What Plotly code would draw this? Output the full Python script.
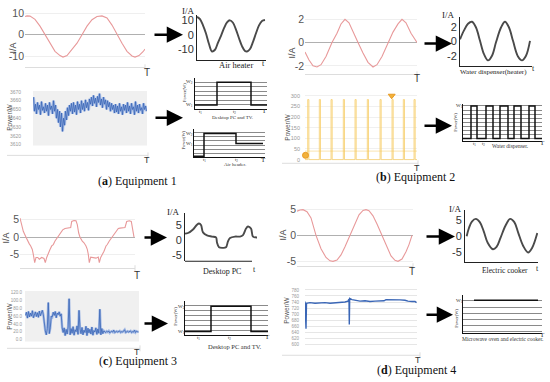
import plotly.graph_objects as go

W, H = 550, 382

# ================= DATA =================
# (a) Equipment 1
a_cur_t = [0, 2, 5, 10, 15, 20, 25, 30, 35, 38, 42, 47, 52, 57, 62, 67, 72, 77, 82, 87, 92, 97, 102, 107, 110, 114, 118, 120]
a_cur_i = [8.5, 8.8, 8.7, 7.2, 4, 0, -4, -7.8, -9.8, -10.5, -9.8, -7, -4, 0, 4, 7, 8.5, 8.8, 7.8, 4.5, 0, -4, -7.8, -10, -10.5, -9.8, -8, -6.8]
a_heat_t = [0, 3, 6, 9, 12, 15, 18, 21, 24, 27, 30, 33, 36, 39, 42, 45, 48, 50, 53, 56, 59, 62, 65, 68]
a_heat_i = [12.4, 10.8, 6.5, 0.8, -6.5, -11.7, -10.5, -5.5, -0.8, 4.5, 8.6, 10, 8.3, 3.5, -2.5, -8, -11.3, -11.7, -10, -5, 1, 6.5, 9.5, 10.2]
a_pow = [3664, 3648, 3656, 3645, 3658, 3650, 3655, 3644, 3659, 3649, 3653, 3646, 3657, 3648, 3655, 3643, 3658, 3650, 3654, 3645, 3660, 3648,
         3655, 3640, 3650, 3635, 3648, 3630, 3646, 3625, 3640, 3632, 3648, 3638, 3652, 3643, 3655,
         3648, 3657, 3645, 3658, 3647, 3655, 3644, 3659, 3650, 3656, 3646, 3660, 3650, 3657, 3648, 3661, 3652, 3658, 3649, 3662,
         3656, 3664, 3654, 3666, 3657, 3663, 3653, 3665, 3658, 3668, 3655, 3662, 3652, 3664, 3656, 3661, 3650, 3660, 3653, 3658, 3648, 3657, 3650, 3655, 3646,
         3656, 3647, 3654, 3645, 3657, 3648, 3653, 3644, 3656, 3649, 3655, 3646, 3658, 3648, 3654, 3645, 3657, 3650, 3653, 3644, 3659, 3648, 3655, 3646, 3656, 3649, 3652, 3645, 3657, 3650, 3654, 3648]
a_tv_t = [0, 22, 22, 56, 56, 72]
a_tv_p = [0.9, 0.9, 6.1, 6.1, 0.9, 0.9]
a_ah_t = [0, 10, 10, 42, 42, 69]
a_ah_p = [0.25, 0.25, 5.8, 5.8, 3.4, 3.4]

# (b) Equipment 2
b_cur_t = [0, 4, 8, 12, 16, 21, 27, 32, 36, 40, 44, 48, 53, 58, 63, 68, 72, 77, 83, 88, 93, 97, 101, 106, 112]
b_cur_i = [-0.8, -1.5, -2.0, -2.1, -1.9, -1.2, 0, 0.8, 1.6, 2.0, 1.7, 1.0, 0, -0.9, -1.7, -2.1, -1.9, -1.2, 0, 0.9, 1.6, 2.0, 1.7, 0.8, 0]
b_wd_t = [0, 4, 8, 12, 16, 20, 24, 28, 32, 36, 41, 45, 49, 53, 58, 62, 66, 70]
b_wd_i = [0.3, 1.5, 2.4, 2.67, 1.9, 0.1, -1.7, -2.53, -1.9, -0.1, 1.9, 2.67, 1.9, 0.1, -2.0, -2.53, -1.9, 0.1]
b_pulse_start = [2.7, 14.3, 26, 38.3, 50, 62.3, 75, 87, 98.3, 109]
b_pulse_width = 1.2
b_pulse_height = 282
b_mean = 40
b_mark_t = [0.5, 86.7]
b_mark_p = [20, 300]
b_sq_rise = [8, 23, 37, 51, 66]
b_sq_fall = [14, 30, 45, 58, 72]
b_sq_high = 8

# (c) Equipment 3
c_cur_t = [0, 1.7, 3.3, 6, 7.7, 9.3, 10.7, 12.3, 13.3, 14.7, 16, 17.7, 19.3, 21.7, 24, 25.3, 26.7, 28.3, 30, 31.7,
           33.3, 35, 37.3, 39.3, 41, 42.7, 45, 46.7, 48.3, 50.7, 51.7, 54, 56, 57.3, 58.7, 60, 62.3, 64, 66, 67.3,
           68.3, 69.3, 70.7, 73.3, 76, 78.3, 79.3, 80.7, 82.7, 84, 86, 87.3, 89.3, 91.7, 94, 96, 98.3, 100, 102.7, 105,
           106.7, 109.3, 111.3, 112.7, 114]
c_cur_i = [5.5, 3.6, 1.7, 0, -1.1, -1.9, -2.5, -3.5, -4.9, -7.3, -5.8, -5.8, -6.3, -5.8, -6.1, -7.3, -5.8, -4.9, -3.5, -2.5,
           -2.1, -1.1, -0.2, 0.8, 1.4, 2.1, 2.5, 2.6, 2.8, 2.8, 4.5, 4.8, 4.7, 3.6, 1.2, 0, -1.1, -1.6, -2.5, -3.5,
           -4.9, -7.3, -5.7, -5.8, -6.0, -5.7, -7.3, -5.8, -4.9, -4.0, -2.5, -2.1, -1.1, -0.2, 0.9, 1.7, 2.5, 2.6, 2.8, 2.8,
           4.5, 4.7, 4.5, 2.2, 0]
c_pc_t = [0, 3, 8, 12, 14, 16, 18, 22, 27, 31, 32, 34, 38, 41, 43, 45, 50, 55, 58, 61, 63, 66, 68, 72]
c_pc_i = [2.3, 2.5, 3.7, 5.3, 5.7, 5.2, 2.7, 1.7, 1.3, 1.0, -0.7, -2.3, -2.5, -2.3, -0.3, 0.8, 1.3, 1.3, 1.8, 4.0, 4.7, 4.0, 1.3, 1.0]
c_pow = [62, 70, 55, 72, 58, 68, 60, 74, 56, 66, 71, 59, 69, 57, 73, 61, 67, 75, 64,
         40, 22,
         12, 28, 95, 15, 30, 60,
         58, 70, 62, 72, 56, 68, 64, 71, 60, 66,
         30,
         18, 30, 10, 26, 14, 32, 105, 12, 28, 16, 33, 11, 25, 20, 35, 13, 75, 27, 15, 31,
         12, 24, 18, 34, 10, 29, 17, 26, 14, 32, 11, 23, 19, 30, 13, 27, 16, 78, 12, 28, 15, 22,
         20, 18, 21, 19, 22, 17, 20, 21, 19, 24, 18, 20, 21, 19, 20, 22, 18, 20, 19, 21, 25, 18, 20, 21, 19, 20, 22, 18, 20, 19, 24, 18, 21, 20, 19]
c_tv_t = [0, 26, 26, 66, 66, 83]
c_tv_p = [0.8, 0.8, 5.9, 5.9, 0.8, 0.8]

# (d) Equipment 4
d_cur_t = [0, 3, 6, 10, 14, 19, 24, 29, 33, 36, 40, 44, 48, 53, 58, 62, 66, 69, 72, 76, 80, 85, 90, 94, 98, 101, 105, 109, 112, 115]
d_cur_i = [4.7, 4.95, 5.0, 4.6, 3.4, 0, -2.6, -4.3, -4.95, -5.05, -4.8, -3.8, -2.2, 0, 2.3, 4.0, 4.85, 5.0, 4.8, 3.8, 2.2, 0, -2.3, -4.0, -4.85, -5.05, -4.6, -3.2, -1.8, 0]
d_ck_t = [1.7, 4, 7, 11, 15, 19, 23, 28.3, 32, 36, 41, 45.7, 50, 54, 59, 64, 68, 73.3]
d_ck_i = [0, 2.5, 4.5, 5.3, 4.3, 1.5, -2.0, -4.0, -3.3, -0.5, 3.2, 5.3, 4.3, 1.0, -3.0, -5.0, -3.6, 1.0]
d_pow_t = [0, 1, 1.5, 5, 10, 15, 20, 25, 30, 35, 40, 43, 44, 44.3, 44.7, 47, 51, 55, 60, 65, 70, 75, 79, 81, 85, 90, 95, 100, 103, 107, 110, 111.5]
d_pow_p = [742, 652, 736, 738, 736, 737, 738, 736, 737, 737, 740, 743, 750, 666, 752, 748, 745, 743, 744, 742, 743, 744, 744, 748, 747, 746, 747, 746, 743, 742, 742, 738]
d_mw_t = [11, 75]
d_mw_p = [5.1, 5.1]

# tick values
cur10_ticks = [10, 0, -10]
cur2_ticks = [2, 0, -2]
cur5_ticks = [5, 0, -5]
a_pow_ticks = [3610, 3620, 3630, 3640, 3650, 3660, 3670]
b_pow_ticks = [0, 50, 100, 150, 200, 250, 300]
c_pow_ticks = [0, 20, 40, 60, 80, 100, 120]
d_pow_ticks = [600, 620, 640, 660, 680, 700, 720, 740, 760, 780]

# ================= FIGURE =================
SANS = "Liberation Sans"
SERIF = "Liberation Serif"
fig = go.Figure()
layout = {}
shapes = []
anns = []
cnt = [0]


def axes(box, xr, yr, xkw=None, ykw=None):
    cnt[0] += 1
    k = cnt[0]
    s = '' if k == 1 else str(k)
    x0, y0, x1, y1 = box
    xa = dict(domain=[x0 / W, x1 / W], range=xr, anchor='y' + s, showgrid=False, zeroline=False,
              showticklabels=False, ticks='', showline=False, fixedrange=True)
    ya = dict(domain=[1 - y1 / H, 1 - y0 / H], range=yr, anchor='x' + s, showgrid=False, zeroline=False,
              showticklabels=False, ticks='', showline=False, fixedrange=True)
    if xkw:
        xa.update(xkw)
    if ykw:
        ya.update(ykw)
    layout['xaxis' + s] = xa
    layout['yaxis' + s] = ya
    return 'x' + s, 'y' + s


def line(ax, x, y, color, width, shape='linear', **kw):
    fig.add_trace(go.Scatter(x=x, y=y, xaxis=ax[0], yaxis=ax[1], mode='lines',
                             line=dict(color=color, width=width, shape=shape),
                             showlegend=False, hoverinfo='skip', **kw))


def pline(x0, y0, x1, y1, color='#000', width=1):
    shapes.append(dict(type='line', xref='paper', yref='paper', x0=x0 / W, x1=x1 / W,
                       y0=1 - y0 / H, y1=1 - y1 / H, line=dict(color=color, width=width)))


def prect(x0, y0, x1, y1, fill):
    shapes.append(dict(type='rect', xref='paper', yref='paper', x0=x0 / W, x1=x1 / W,
                       y0=1 - y1 / H, y1=1 - y0 / H, line=dict(width=0), fillcolor=fill, layer='below'))


def txt(x, y, t, size, color='#222', family=SANS, angle=0, xanchor='center'):
    anns.append(dict(x=x / W, y=1 - y / H, xref='paper', yref='paper', text=t, showarrow=False,
                     font=dict(size=size, color=color, family=family), textangle=angle,
                     xanchor=xanchor, yanchor='middle'))


def arrow(x0, x1, y):
    anns.append(dict(x=x1 / W, y=1 - y / H, xref='paper', yref='paper', ax=-(x1 - x0), ay=0,
                     text='', showarrow=True, arrowhead=2, arrowsize=1.3, arrowwidth=2.5, arrowcolor='#000',
                     font=dict(size=1)))


def cur_left(box, xr, yr, ticks, t, i, ylab_pos, T_pos):
    ax = axes(box, xr, yr,
              xkw=dict(showline=True, linecolor='#dddddd', linewidth=1),
              ykw=dict(showticklabels=True, tickvals=ticks, ticktext=[str(v) for v in ticks],
                       tickfont=dict(size=10.5, color='#555', family=SANS),
                       showgrid=True, gridcolor='#efefef', zeroline=True, zerolinecolor='#b0b0b0',
                       zerolinewidth=1))
    line(ax, t, i, '#e8999a', 1.1)
    txt(ylab_pos[0], ylab_pos[1], 'I/A', 9, '#444', SANS, -90)
    txt(T_pos[0], T_pos[1], 'T', 10, '#333', SANS)
    x1, y1 = box[2], box[3]
    pline(x1, y1 - 3, x1, y1 + 3, '#dddddd', 1)
    return ax


def cur_right(box, xr, yr, ticks, t, i, ia_pos, label, lab_pos, lab_size, t_pos, xline=True):
    ax = axes(box, xr, yr,
              xkw=dict(showline=xline, linecolor='#222', linewidth=1),
              ykw=dict(showline=True, linecolor='#222', linewidth=1, showticklabels=True, tickvals=ticks,
                       ticktext=[str(v) for v in ticks], tickfont=dict(size=11, color='#333', family=SANS)))
    line(ax, t, i, '#4a4a4a', 1.9, 'spline')
    txt(ia_pos[0], ia_pos[1], 'I/A', 9, '#222', SERIF)
    txt(lab_pos[0], lab_pos[1], label, lab_size, '#222', SERIF)
    txt(t_pos[0], t_pos[1], 't', 8, '#222', SERIF)
    return ax


def step_box(box, xr, yr, t, p, wlabels, plab, label, lab_pos, lab_size, T_pos, tlabels):
    ax = axes(box, xr, yr,
              xkw=dict(showline=True, linecolor='#111', linewidth=1),
              ykw=dict(showline=True, linecolor='#111', linewidth=1, showgrid=True, dtick=1, tick0=0,
                       gridcolor='#8a8a8a', gridwidth=0.7))
    line(ax, t, p, '#111', 1.5)
    for (wx, wy, wt) in wlabels:
        txt(wx, wy, wt, 5, '#333', SERIF)
    txt(plab[0], plab[1], 'Power(W)', 4.5, '#333', SERIF, -90)
    txt(lab_pos[0], lab_pos[1], label, lab_size, '#333', SERIF)
    txt(T_pos[0], T_pos[1], 'T', 7, '#333', SERIF)
    for (tx, ty, tt) in tlabels:
        txt(tx, ty, tt, 4.5, '#333', SERIF)
    return ax


def pow_frame(bottom_y, x0, x1, plab, T_pos):
    pline(x0, bottom_y, x1, bottom_y, '#dddddd', 1)
    pline(x1, bottom_y - 3, x1, bottom_y + 3, '#dddddd', 1)
    txt(plab[0], plab[1], 'Power/W', 6.5, '#555', SANS, -90)
    txt(T_pos[0], T_pos[1], 'T', 9, '#333', SANS)


# ---------- (a) ----------
cur_left((25, 5, 145, 66), [0, 120], [-15.3, 13], cur10_ticks, a_cur_t, a_cur_i, (13, 47), (147, 71))
cur_right((197, 13, 266, 59), [0, 69], [-17.9, 13.8], cur10_ticks, a_heat_t, a_heat_i, (188, 9),
          'Air heater', (236, 64), 8.5, (263, 62))
prect(33, 90, 147, 145, '#f0f0f0')
ax = axes((33, 90, 147, 145), [-0.5, 113.5], [3608.9, 3671],
          ykw=dict(showticklabels=True, tickvals=a_pow_ticks, ticktext=[str(v) for v in a_pow_ticks],
                   tickfont=dict(size=5, color='#999', family=SANS), ticklabelstandoff=11))
line(ax, list(range(len(a_pow))), a_pow, 'rgba(140,170,225,0.75)', 3)
line(ax, list(range(len(a_pow))), a_pow, '#3a66b6', 0.8)
pow_frame(155, 7, 148, (10, 117), (147, 160))
step_box((195, 77, 267, 108), [0, 72], [0, 7], a_tv_t, a_tv_p,
         [(189, 81, 'W<sub>2</sub>'), (189, 104, 'W<sub>1</sub>')], (184, 92),
         'Desktop PC and TV.', (232, 117), 5, (264, 110),
         [(200, 111, 't<sub>1</sub>'), (234, 111, 't<sub>2</sub>')])
step_box((194, 128, 265, 157), [0, 71], [0, 7], a_ah_t, a_ah_p,
         [(189, 133, 'W<sub>2</sub>'), (189, 143, 'W<sub>1</sub>')], (184, 140),
         'Air header.', (235, 164), 5, (263, 160),
         [(204, 160, 't<sub>1</sub>'), (236, 160, 't<sub>2</sub>')])
arrow(153, 183, 33)
arrow(154, 183, 117)
txt(137, 181, '(<b>a</b>) Equipment 1', 12, '#111', SERIF)

# ---------- (b) ----------
cur_left((305, 5, 417, 73), [0, 112], [-2.72, 3.06], cur2_ticks, b_cur_t, b_cur_i, (292, 52), (417, 77))
cur_right((460, 15, 532, 65), [0, 72], [-3.33, 3.33], cur2_ticks, b_wd_t, b_wd_i, (448, 13),
          'Water dispenser(heater)', (493, 71), 7, (533, 67))
ax = axes((305, 90, 417, 161), [0, 112], [-8, 322],
          ykw=dict(showticklabels=True, tickvals=b_pow_ticks, ticktext=[str(v) for v in b_pow_ticks],
                   tickfont=dict(size=5.5, color='#999', family=SANS), showgrid=True, gridcolor='#f0f0f0',
                   ticklabelstandoff=4))
px_, py_ = [0], [0]
for s in b_pulse_start:
    px_ += [s, s, s + b_pulse_width, s + b_pulse_width]
    py_ += [0, b_pulse_height, b_pulse_height, 0]
px_.append(112)
py_.append(0)
line(ax, px_, py_, '#f7cf6e', 0.8, fill='tozeroy', fillcolor='rgba(250,220,140,0.3)')
line(ax, [0, 112], [b_mean, b_mean], 'rgba(245,200,90,0.6)', 0.8)
fig.add_trace(go.Scatter(x=b_mark_t, y=b_mark_p, xaxis=ax[0], yaxis=ax[1], mode='markers',
                         marker=dict(symbol=['circle', 'triangle-down'], size=6, color='#f2b13a',
                                     line=dict(color='#e89a20', width=1)),
                         showlegend=False, hoverinfo='skip', cliponaxis=False))
pow_frame(163, 282, 418, (288, 127), (417, 168))
bx, by = [0], [0]
for r, f in zip(b_sq_rise, b_sq_fall):
    bx += [r, r, f, f]
    by += [0, b_sq_high, b_sq_high, 0]
bx.append(79)
by.append(0)
step_box((463, 103, 542, 140), [0, 79], [-0.5, 8.5], bx, by,
         [(459, 105, 'W<sub>1</sub>')], (456, 122),
         'Water dispenser.', (510, 146), 5.5, (542, 142),
         [(474, 144, 't<sub>1</sub>'), (483, 144, 't<sub>2</sub>')])
arrow(423, 452, 42)
arrow(423, 452, 125)
txt(415, 177, '(<b>b</b>) Equipment 2', 12, '#111', SERIF)

# ---------- (c) ----------
cur_left((20, 213, 135, 269), [0, 115], [-8.87, 7], cur5_ticks, c_cur_t, c_cur_i, (6, 239), (137, 276))
cur_right((185, 213, 258, 262), [0, 73], [-7, 9.3], cur5_ticks, c_pc_t, c_pc_i, (173, 212),
          'Desktop PC', (222, 272), 8, (254, 270), xline=False)
pline(185, 262, 252, 262, '#222', 1)
prect(25, 292, 139, 343, '#f0f0f0')
ax = axes((25, 292, 139, 343), [-0.5, 114.5], [-5, 125],
          ykw=dict(showticklabels=True, tickvals=c_pow_ticks, ticktext=['%.1f' % v for v in c_pow_ticks],
                   tickfont=dict(size=4.5, color='#999', family=SANS), ticklabelstandoff=2))
line(ax, list(range(len(c_pow))), c_pow, 'rgba(140,170,225,0.75)', 2.5)
line(ax, list(range(len(c_pow))), c_pow, '#3a66b6', 0.8)
pow_frame(350, 7, 140, (10, 318), (137, 354))
step_box((185, 302, 268, 337), [0, 83], [0, 7], c_tv_t, c_tv_p,
         [(181, 308, 'W<sub>2</sub>'), (181, 333, 'W<sub>1</sub>')], (176, 318),
         'Desktop PC and TV.', (235, 348), 6.5, (267, 339),
         [(198, 340, 't<sub>1</sub>'), (230, 340, 't<sub>2</sub>')])
arrow(143, 167, 238)
arrow(143, 168, 325)
txt(138, 363, '(<b>c</b>) Equipment 3', 12, '#111', SERIF)

# ---------- (d) ----------
cur_left((297, 200, 413, 267), [0, 116], [-6, 6.9], cur5_ticks, d_cur_t, d_cur_i, (283, 236), (412, 272))
cur_right((465, 210, 538, 263), [0, 74], [-8, 8.1], cur5_ticks, d_ck_t, d_ck_i, (455, 209),
          'Electric cooker', (505, 271), 7.5, (537, 269))
ax = axes((305, 289, 417, 351), [0, 112], [583.6, 786.5],
          ykw=dict(showticklabels=True, tickvals=d_pow_ticks, ticktext=[str(v) for v in d_pow_ticks],
                   tickfont=dict(size=4.5, color='#999', family=SANS), showgrid=True, gridcolor='#e6e6e6',
                   ticklabelstandoff=5))
line(ax, d_pow_t, d_pow_p, '#3a66b6', 1.4)
pow_frame(357, 282, 420, (287, 312), (418, 362))
step_box((463, 296, 542, 334), [0, 79], [-0.2, 6], d_mw_t, d_mw_p,
         [(460, 302, 'W<sub>1</sub>')], (457, 320),
         'Microwave oven and electric cooker.', (503, 341), 5.5, (542, 337), [])
arrow(425, 455, 237)
arrow(425, 453, 316)
txt(416, 372, '(<b>d</b>) Equipment 4', 12, '#111', SERIF)

fig.update_layout(**layout)
fig.update_layout(width=W, height=H, margin=dict(l=0, r=0, t=0, b=0), paper_bgcolor='white',
                  plot_bgcolor='rgba(0,0,0,0)', shapes=shapes, annotations=anns, showlegend=False)
fig.write_html("out.html", config={'displayModeBar': False},
               post_script="document.body.style.margin='0';document.body.style.padding='0';")
